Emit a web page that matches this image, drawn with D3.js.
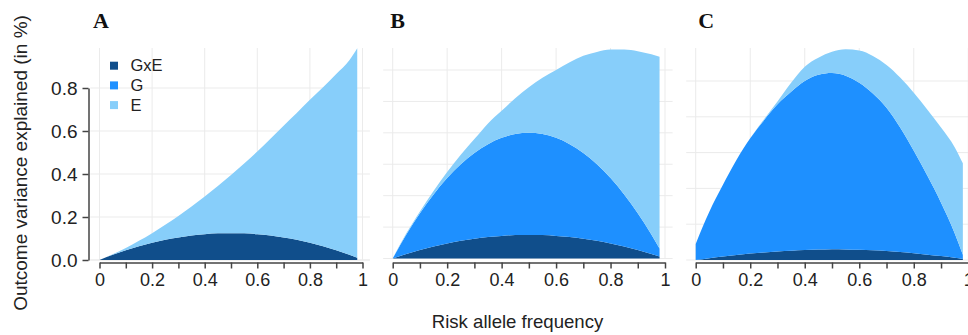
<!DOCTYPE html>
<html>
<head>
<meta charset="utf-8">
<script src="https://cdn.jsdelivr.net/npm/d3@7"></script>
<style>
    body { margin: 0; background: #fff; }
    svg { display: block; font-family: "Liberation Sans", Arial, sans-serif; }
</style>
</head>
<body>
<svg id="chart" width="968" height="335"></svg>
<script>
"use strict";

// risk allele frequency (x)
var freq = [0, 0.05, 0.1, 0.15, 0.2, 0.25, 0.3, 0.35, 0.4, 0.45, 0.5,
            0.55, 0.6, 0.65, 0.7, 0.75, 0.8, 0.85, 0.9, 0.95, 0.98];

// panel A: variance explained by each component (stacked)
var gxeA = [0, 0.024, 0.045, 0.064, 0.08, 0.094, 0.105, 0.114, 0.12, 0.124, 0.125,
            0.124, 0.12, 0.114, 0.105, 0.094, 0.08, 0.064, 0.045, 0.024, 0.01];
var gA   = [0, 0, 0, 0, 0, 0, 0, 0, 0, 0, 0,
            0, 0, 0, 0, 0, 0, 0, 0, 0, 0];
var eA   = [0, 0.003, 0.011, 0.025, 0.045, 0.07, 0.1, 0.135, 0.175, 0.22, 0.27,
            0.325, 0.385, 0.45, 0.52, 0.59, 0.665, 0.74, 0.82, 0.905, 0.975];

// panel B
var gxeB = [0, 0.029, 0.054, 0.077, 0.096, 0.113, 0.126, 0.137, 0.144, 0.149, 0.15,
            0.149, 0.144, 0.137, 0.126, 0.113, 0.096, 0.077, 0.054, 0.029, 0.012];
var gB   = [0, 0.123, 0.234, 0.331, 0.416, 0.487, 0.546, 0.591, 0.624, 0.643, 0.65,
            0.643, 0.624, 0.591, 0.546, 0.487, 0.416, 0.331, 0.234, 0.123, 0.051];
var eB   = [0, 0.008, 0.012, 0.022, 0.038, 0.06, 0.088, 0.132, 0.172, 0.228, 0.29,
            0.358, 0.432, 0.522, 0.618, 0.715, 0.818, 0.922, 1.032, 1.148, 1.222];

// panel C
var gxeC = [0, 0.01, 0.02, 0.028, 0.036, 0.042, 0.048, 0.052, 0.056, 0.058, 0.06,
            0.059, 0.057, 0.054, 0.05, 0.045, 0.038, 0.03, 0.022, 0.012, 0.005];
var gC   = [0.09, 0.26, 0.4, 0.532, 0.644, 0.738, 0.822, 0.888, 0.944, 0.977, 0.985,
            0.971, 0.933, 0.876, 0.8, 0.695, 0.572, 0.44, 0.298, 0.138, 0.025];
var eC   = [0, 0, 0, 0, 0, 0.005, 0.015, 0.05, 0.08, 0.095, 0.118,
            0.147, 0.18, 0.21, 0.24, 0.28, 0.325, 0.37, 0.42, 0.48, 0.51];

var layerNames = ["GxE", "G", "E"];
var layerColors = ["#104E8B", "#1E90FF", "#87CEFA"];

var xTickLabels = [0, 0.2, 0.4, 0.6, 0.8, 1];
var xTicksMinor = [0, 0.1, 0.2, 0.3, 0.4, 0.5, 0.6, 0.7, 0.8, 0.9, 1];
var yTicksA = [0, 0.2, 0.4, 0.6, 0.8];
var yGridB = [0.2, 0.4, 0.6, 0.8, 1.0, 1.2];
var yGridC = [0.2, 0.4, 0.6, 0.8, 1.0];

var panels = [
    {id: "A", gxe: gxeA, g: gA, e: eA, grid: yTicksA,
     xr: [99.5, 362.5], yd: [0, 0.8], yr: [260, 88], axisY: true, legend: true},
    {id: "B", gxe: gxeB, g: gB, e: eB, grid: yGridB,
     xr: [392.7, 665], yd: [0, 1.2], yr: [258.5, 70]},
    {id: "C", gxe: gxeC, g: gC, e: eC, grid: yGridC,
     xr: [695.7, 968.3], yd: [0, 1.0], yr: [260, 81]}
];

var svg = d3.select("#chart");
var panelTop = 48, axisY = 262.5;

panels.forEach(function(p) {
    var x = d3.scaleLinear().domain([0, 1]).range(p.xr);
    var y = d3.scaleLinear().domain(p.yd).range(p.yr);
    var g = svg.append("g").attr("class", "panel-" + p.id);

    // background grid
    var gx0 = x(-0.035), gx1 = Math.min(x(1.028), 968);
    g.selectAll(".hgrid").data([0].concat(p.grid)).enter().append("line")
      .attr("class", "hgrid")
      .attr("x1", gx0).attr("x2", gx1)
      .attr("y1", function(d) { return y(d); })
      .attr("y2", function(d) { return y(d); })
      .attr("stroke", "#ebebeb").attr("stroke-width", 1);
    g.selectAll(".vgrid").data(xTickLabels).enter().append("line")
      .attr("class", "vgrid")
      .attr("x1", function(d) { return x(d); })
      .attr("x2", function(d) { return x(d); })
      .attr("y1", panelTop).attr("y2", y(0))
      .attr("stroke", "#ebebeb").attr("stroke-width", 1);

    // stacked areas
    var rows = freq.map(function(f, i) {
        return {f: f, GxE: p.gxe[i], G: p.g[i], E: p.e[i]};
    });
    var series = d3.stack().keys(layerNames)(rows);
    var area = d3.area()
      .curve(d3.curveMonotoneX)
      .x(function(d) { return x(d.data.f); })
      .y0(function(d) { return y(d[0]); })
      .y1(function(d) { return y(d[1]); });
    g.selectAll(".layer").data(series).enter().append("path")
      .attr("class", "layer")
      .attr("d", area)
      .attr("fill", function(d, i) { return layerColors[i]; });

    // x axis
    var xAxis = d3.axisBottom(x)
      .tickValues(xTicksMinor)
      .tickSize(6).tickSizeOuter(0)
      .tickFormat(function(d) {
          var k = Math.round(d * 10);
          return k % 2 === 0 ? d3.format("~g")(k / 10) : "";
      });
    var ax = g.append("g")
      .attr("transform", "translate(0," + axisY + ")")
      .call(xAxis);
    ax.select(".domain").attr("stroke", "#444").attr("stroke-width", 1.5);
    ax.selectAll(".tick line").attr("stroke", "#444").attr("stroke-width", 1.5);
    ax.selectAll(".tick text")
      .attr("y", 11)
      .attr("fill", "#222")
      .style("font-size", "18px")
      .style("font-family", "Liberation Sans, Arial, sans-serif");

    if(p.axisY) {
        var yAxis = d3.axisLeft(y)
          .tickValues(yTicksA)
          .tickSize(6).tickSizeOuter(0).tickPadding(5)
          .tickFormat(d3.format(".1f"));
        var ay = g.append("g")
          .attr("transform", "translate(88.5,0)")
          .call(yAxis);
        ay.select(".domain").attr("stroke", "#444").attr("stroke-width", 1.5);
        ay.selectAll(".tick line").attr("stroke", "#444").attr("stroke-width", 1.5);
        ay.selectAll(".tick text")
          .attr("fill", "#222")
          .style("font-size", "19px")
          .style("font-family", "Liberation Sans, Arial, sans-serif");
    }

    if(p.legend) {
        var leg = g.selectAll(".legend").data(layerNames).enter().append("g")
          .attr("class", "legend")
          .attr("transform", function(d, i) {
              return "translate(114," + (65.7 + i * 19.7) + ")";
          });
        leg.append("rect")
          .attr("x", -4).attr("y", -4).attr("width", 8).attr("height", 8)
          .attr("fill", function(d, i) { return layerColors[i]; });
        leg.append("text")
          .attr("x", 16.5).attr("dy", "0.35em")
          .attr("fill", "#222")
          .style("font-size", "16.5px")
          .text(function(d) { return d; });
    }

    // panel letter
    svg.append("text")
      .attr("x", p.xr[0] - 6.5 + (p.id === "A" ? 0 : (p.id === "C" ? 9 : 4)))
      .attr("y", 27.5)
      .style("font-family", "Liberation Serif, Times New Roman, serif")
      .style("font-weight", "bold")
      .style("font-size", "22px")
      .attr("fill", "#111")
      .text(p.id);
});

// axis titles
svg.append("text")
  .attr("x", 517.5).attr("y", 321.7).attr("dy", "0.35em")
  .attr("text-anchor", "middle")
  .attr("fill", "#222")
  .style("font-size", "18.6px")
  .text("Risk allele frequency");

svg.append("text")
  .attr("transform", "translate(20,163) rotate(-90)")
  .attr("dy", "0.35em")
  .attr("text-anchor", "middle")
  .attr("fill", "#222")
  .style("font-size", "19px")
  .text("Outcome variance explained (in %)");
</script>
</body>
</html>
